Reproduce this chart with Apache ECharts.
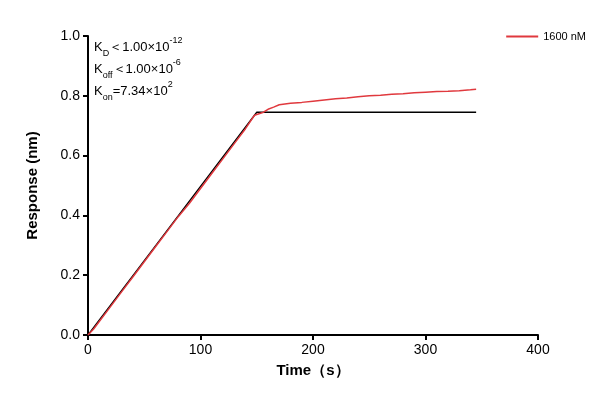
<!DOCTYPE html>
<html>
<head>
<meta charset="UTF-8">
<script src="https://cdn.jsdelivr.net/npm/echarts@6/dist/echarts.min.js"></script>
<style>html,body{margin:0;background:#fff}#main{width:613px;height:412px}</style>
</head>
<body>
<div id="main"></div>
<script>
var measTime = [0, 5, 10, 20, 30, 40, 50, 60, 70, 80, 90, 100, 110, 120, 130, 140, 148, 152, 156, 160, 165, 170, 180, 190, 200, 210, 220, 230, 240, 250, 260, 270, 280, 290, 300, 310, 320, 330, 340, 345];
var measResp = [0, 0.02, 0.045, 0.095, 0.145, 0.195, 0.245, 0.295, 0.345, 0.395, 0.44, 0.49, 0.54, 0.59, 0.64, 0.69, 0.735, 0.74, 0.745, 0.755, 0.762, 0.77, 0.775, 0.778, 0.782, 0.786, 0.79, 0.793, 0.797, 0.80, 0.802, 0.805, 0.807, 0.81, 0.812, 0.814, 0.815, 0.817, 0.82, 0.822];
var fitTime = [0, 150, 345];
var fitResp = [0, 0.745, 0.745];

var chart = echarts.init(document.getElementById('main'));
var axisCommon = {
  axisLine: { show: true, lineStyle: { color: '#000', width: 2 } },
  axisTick: { show: true, length: 5, lineStyle: { color: '#000', width: 2 } },
  axisLabel: { color: '#000', fontSize: 14, fontFamily: 'Liberation Sans' },
  splitLine: { show: false }
};
chart.setOption({
  animation: false,
  grid: { left: 88, right: 75, top: 36, bottom: 77 },
  legend: {
    right: 22, top: 26, itemWidth: 32, itemHeight: 2,
    textStyle: { fontSize: 11, color: '#000', fontFamily: 'Liberation Sans' },
    data: [{ name: '1600 nM', icon: 'rect' }]
  },
  graphic: [{
    type: 'text', left: 94, top: 36,
    style: {
      rich: {
        n: { fontSize: 13, fontFamily: 'Liberation Sans', fill: '#000', lineHeight: 22 },
        s: { fontSize: 9, fontFamily: 'Liberation Sans', fill: '#000', verticalAlign: 'bottom', padding: [6, 0, 0, 0] },
        p: { fontSize: 9, fontFamily: 'Liberation Sans', fill: '#000', verticalAlign: 'top', padding: [0, 0, 6, 0] }
      },
      text: '{n|K}{s|D}{n|＜1.00×10}{p|-12}\n{n|K}{s|off}{n|＜1.00×10}{p|-6}\n{n|K}{s|on}{n|=7.34×10}{p|2}'
    }
  }],
  xAxis: Object.assign({
    type: 'value', min: 0, max: 400, interval: 100,
    name: 'Time（s）', nameLocation: 'middle', nameGap: 28,
    nameTextStyle: { fontSize: 15, fontWeight: 'bold', color: '#000', fontFamily: 'Liberation Sans' }
  }, axisCommon),
  yAxis: Object.assign({
    type: 'value', min: 0, max: 1.0, interval: 0.2,
    name: 'Response (nm)', nameLocation: 'middle', nameGap: 48,
    nameTextStyle: { fontSize: 15, fontWeight: 'bold', color: '#000', fontFamily: 'Liberation Sans' }
  }, axisCommon, { axisLabel: { color: '#000', fontSize: 14, fontFamily: 'Liberation Sans', formatter: function (v) { return v.toFixed(1); } } }),
  series: [
    {
      name: '1600 nM', type: 'line', showSymbol: false, symbol: 'none',
      lineStyle: { color: '#e0393e', width: 1.5 }, itemStyle: { color: '#e0393e' },
      data: measTime.map(function (t, i) { return [t, measResp[i]]; }), z: 2
    },
    {
      name: 'fit', type: 'line', showSymbol: false, symbol: 'none',
      lineStyle: { color: '#000', width: 1.3 },
      data: fitTime.map(function (t, i) { return [t, fitResp[i]]; }), z: 1
    }
  ]
});
</script>
</body>
</html>
